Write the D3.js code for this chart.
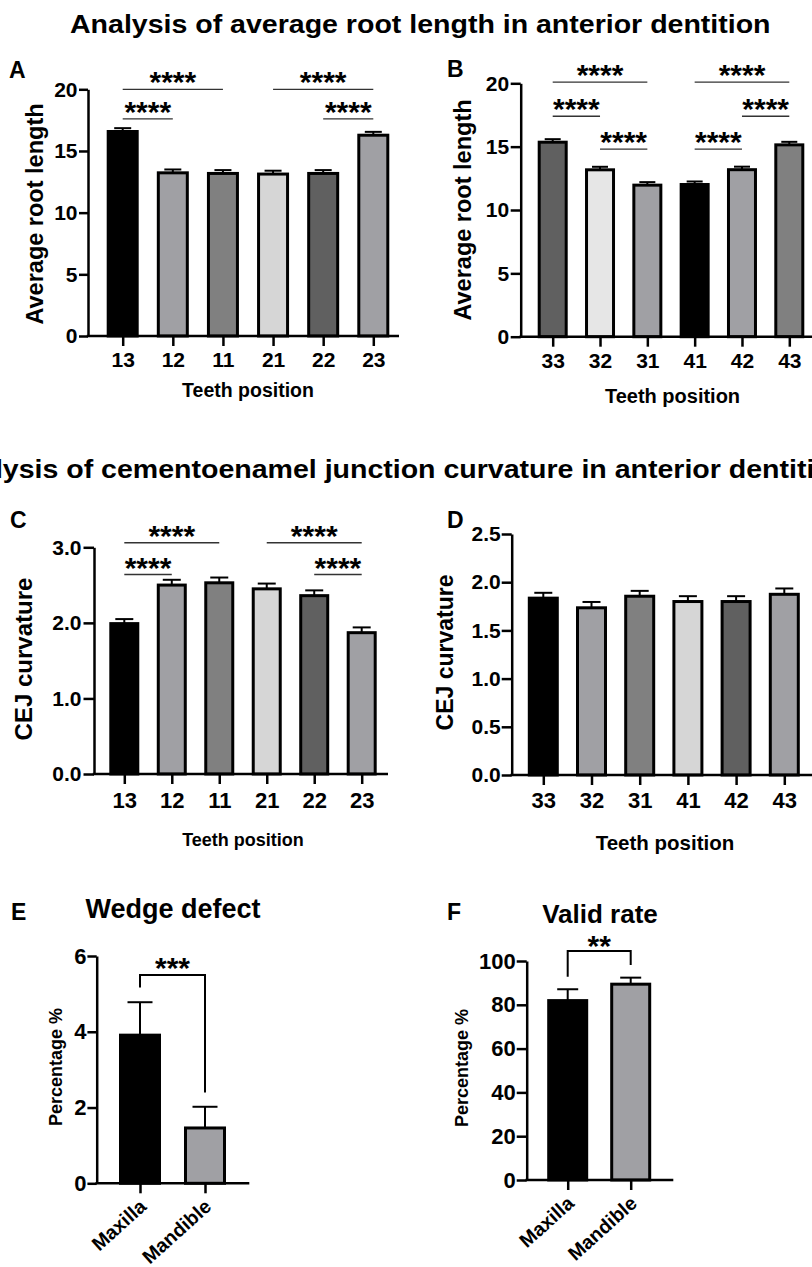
<!DOCTYPE html>
<html>
<head>
<meta charset="utf-8">
<script src="https://cdn.jsdelivr.net/npm/d3@7"></script>
<style>
  body { margin: 0; background: #fff; }
  svg text { font-family: "Liberation Sans", Arial, sans-serif; font-weight: bold; fill: #000; }
</style>
</head>
<body>
<svg id="fig" width="812" height="1267"></svg>
<script>
// ---- data ----
var upperTeeth = ["13", "12", "11", "21", "22", "23"];
var lowerTeeth = ["33", "32", "31", "41", "42", "43"];
var jaws = ["Maxilla", "Mandible"];

var rootUpper = [16.7, 13.35, 13.3, 13.25, 13.3, 16.4];
var rootUpperErr = [0.15, 0.15, 0.15, 0.15, 0.15, 0.15];
var rootLower = [15.47, 13.29, 12.08, 12.13, 13.3, 15.26];
var rootLowerErr = [0.12, 0.12, 0.12, 0.12, 0.12, 0.12];

var cejUpper = [2.01, 2.52, 2.55, 2.47, 2.38, 1.89];
var cejUpperErr = [0.04, 0.05, 0.05, 0.05, 0.05, 0.05];
var cejLower = [1.85, 1.75, 1.87, 1.815, 1.815, 1.89];
var cejLowerErr = [0.04, 0.045, 0.04, 0.04, 0.04, 0.045];

var wedge = [3.95, 1.5];
var wedgeErr = [0.83, 0.52];
var valid = [82.6, 90.1];
var validErr = [4.5, 2.3];

// significance marks: pairs of categories and the height (in data units) of the line
var sigA = [
  { a: "13", b: "11", y: 20, txt: "****" },
  { a: "13", b: "12", y: 17.6, txt: "****" },
  { a: "21", b: "23", y: 20, txt: "****" },
  { a: "22", b: "23", y: 17.6, txt: "****" }
];
var sigB = [
  { a: "33", b: "31", y: 20.1, txt: "****" },
  { a: "33", b: "32", y: 17.4, txt: "****" },
  { a: "32", b: "31", y: 14.8, txt: "****" },
  { a: "41", b: "43", y: 20.1, txt: "****" },
  { a: "42", b: "43", y: 17.4, txt: "****" },
  { a: "41", b: "42", y: 14.8, txt: "****" }
];
var sigC = [
  { a: "13", b: "11", y: 3.06, txt: "****" },
  { a: "13", b: "12", y: 2.64, txt: "****" },
  { a: "21", b: "23", y: 3.06, txt: "****" },
  { a: "22", b: "23", y: 2.64, txt: "****" }
];
var bracketE = { a: "Maxilla", b: "Mandible", yA: 5.17, yTop: 5.5, yB: 2.4, txt: "***" };
var bracketF = { a: "Maxilla", b: "Mandible", yA: 92.8, yTop: 104.6, yB: 98.2, txt: "**" };

var svg = d3.select("#fig");

function drawPanel(p) {
  var g = svg.append("g");
  var x = d3.scalePoint().domain(p.cats).range(p.xRange);
  var y = d3.scaleLinear().domain([0, p.yMax]).range([p.y0, p.yTopPx]);

  // bars (border drawn inside the bar)
  g.selectAll("rect.bar")
    .data(p.vals)
    .enter()
    .append("rect")
    .attr("class", "bar")
    .attr("x", (d, i) => x(p.cats[i]) - p.barW / 2 + 1.5)
    .attr("y", d => y(d) + 1.5)
    .attr("width", p.barW - 3)
    .attr("height", d => p.y0 - y(d) - 1.5)
    .attr("fill", (d, i) => p.colors[i])
    .attr("stroke", "#000")
    .attr("stroke-width", 3);

  // error bars, upper half only
  var capW = p.capW;
  p.vals.forEach(function(v, i) {
    var cx = x(p.cats[i]);
    var top = y(v + p.errs[i]);
    g.append("line").attr("x1", cx).attr("x2", cx).attr("y1", y(v) + 1).attr("y2", top)
      .attr("stroke", "#000").attr("stroke-width", 2);
    g.append("line").attr("x1", cx - capW / 2).attr("x2", cx + capW / 2).attr("y1", top).attr("y2", top)
      .attr("stroke", "#000").attr("stroke-width", 2);
  });

  // y axis
  var leftAxis = d3.axisLeft(y)
    .tickValues(p.yTicks)
    .tickSize(p.yTickLen)
    .tickSizeOuter(0)
    .tickPadding(p.yPad)
    .tickFormat(p.fmt);
  var ya = g.append("g").attr("transform", `translate(${p.axisX},0)`).call(leftAxis);
  ya.selectAll("line, path").attr("stroke", "#000").attr("stroke-width", 2.5);
  ya.selectAll("text").style("font-size", p.yTickFont + "px");

  // x axis
  var bottomAxis = d3.axisBottom(x).tickSize(10).tickSizeOuter(0).tickPadding(p.xPad);
  var xa = g.append("g").attr("transform", `translate(0,${p.y0})`).call(bottomAxis);
  xa.select(".domain").remove();
  xa.selectAll("line").attr("stroke", "#000").attr("stroke-width", 2.5);
  xa.selectAll("text").style("font-size", p.xTickFont + "px");
  if (p.rotate) {
    xa.selectAll("text")
      .attr("y", 0).attr("dy", 0)
      .attr("text-anchor", "end")
      .attr("transform", "translate(7,25) rotate(-42)");
  }
  g.append("line")
    .attr("x1", p.axisX - 1.25).attr("x2", p.xEnd)
    .attr("y1", p.y0).attr("y2", p.y0)
    .attr("stroke", "#000").attr("stroke-width", 2.5);

  // significance lines
  (p.sig || []).forEach(function(s) {
    var ly = y(s.y);
    g.append("line").attr("x1", x(s.a)).attr("x2", x(s.b)).attr("y1", ly).attr("y2", ly)
      .attr("stroke", "#333").attr("stroke-width", 1.3);
    g.append("text")
      .attr("x", (x(s.a) + x(s.b)) / 2).attr("y", ly + 3)
      .attr("text-anchor", "middle")
      .style("font-size", "30px")
      .text(s.txt);
  });

  // bracket
  if (p.bracket) {
    var b = p.bracket;
    g.append("path")
      .attr("d", `M${x(b.a)},${y(b.yA)}V${y(b.yTop)}H${x(b.b)}V${y(b.yB)}`)
      .attr("fill", "none").attr("stroke", "#000").attr("stroke-width", 2);
    g.append("text")
      .attr("x", (x(b.a) + x(b.b)) / 2).attr("y", y(b.yTop) + p.starDy)
      .attr("text-anchor", "middle")
      .style("font-size", "30px")
      .text(b.txt);
  }

  // axis titles
  g.append("text")
    .attr("transform", `translate(${p.yTitleX},${p.yTitleY}) rotate(-90)`)
    .attr("text-anchor", "middle")
    .style("font-size", p.yTitleFont + "px")
    .text(p.yTitle);
  if (p.xTitle) {
    g.append("text")
      .attr("x", p.xTitleX).attr("y", p.xTitleY)
      .attr("text-anchor", "middle")
      .style("font-size", p.xTitleFont + "px")
      .text(p.xTitle);
  }
  // panel letter
  g.append("text").attr("x", p.letterX).attr("y", p.letterY)
    .style("font-size", "23px").text(p.letter);
  if (p.title) {
    g.append("text").attr("x", p.titleX).attr("y", p.titleY)
      .attr("text-anchor", "middle")
      .style("font-size", p.titleFont + "px")
      .text(p.title);
  }
}

// figure titles (slightly wide lettering in the original)
var title1 = svg.append("text").style("font-size", "25.5px")
  .text("Analysis of average root length in anterior dentition");
var sx = 701 / title1.node().getComputedTextLength();
title1.attr("transform", `translate(70,32.5) scale(${sx},1)`);
svg.append("text").style("font-size", "25.5px")
  .attr("transform", `translate(-59,478) scale(${sx},1)`)
  .text("Analysis of cementoenamel junction curvature in anterior dentition");

var grayA = ["#000000", "#a0a0a4", "#808080", "#d6d6d6", "#606060", "#a0a0a4"];
var grayB = ["#606060", "#e6e6e6", "#a0a0a4", "#000000", "#a0a0a4", "#808080"];

drawPanel({
  cats: upperTeeth, vals: rootUpper, errs: rootUpperErr, colors: grayA,
  xRange: [122.7, 373.3], axisX: 88, xEnd: 399, y0: 336, yTopPx: 89.3, yMax: 20,
  yTicks: [0, 5, 10, 15, 20], fmt: d3.format("d"), yTickLen: 9, yPad: 1.5, yTickFont: 21,
  xPad: 6, xTickFont: 21, barW: 32, capW: 17, sig: sigA,
  yTitle: "Average root length", yTitleX: 42.5, yTitleY: 214, yTitleFont: 23.5,
  xTitle: "Teeth position", xTitleX: 248, xTitleY: 397, xTitleFont: 19.5,
  letter: "A", letterX: 9, letterY: 78
});

drawPanel({
  cats: lowerTeeth, vals: rootLower, errs: rootLowerErr, colors: grayB,
  xRange: [552.7, 789.3], axisX: 520.7, xEnd: 812, y0: 336.7, yTopPx: 83.3, yMax: 20,
  yTicks: [0, 5, 10, 15, 20], fmt: d3.format("d"), yTickLen: 10, yPad: 1.5, yTickFont: 21,
  xPad: 6.5, xTickFont: 21, barW: 30, capW: 16, sig: sigB,
  yTitle: "Average root length", yTitleX: 470.7, yTitleY: 210, yTitleFont: 23.5,
  xTitle: "Teeth position", xTitleX: 672.5, xTitleY: 403, xTitleFont: 20,
  letter: "B", letterX: 447, letterY: 77
});

drawPanel({
  cats: upperTeeth, vals: cejUpper, errs: cejUpperErr, colors: grayA,
  xRange: [124.3, 361.7], axisX: 94, xEnd: 388, y0: 774, yTopPx: 547.3, yMax: 3,
  yTicks: [0, 1, 2, 3], fmt: d3.format(".1f"), yTickLen: 10.5, yPad: 2, yTickFont: 21,
  xPad: 8.5, xTickFont: 22, barW: 30, capW: 18, sig: sigC,
  yTitle: "CEJ curvature", yTitleX: 31.7, yTitleY: 659, yTitleFont: 24,
  xTitle: "Teeth position", xTitleX: 243, xTitleY: 846, xTitleFont: 18,
  letter: "C", letterX: 10, letterY: 528
});

drawPanel({
  cats: lowerTeeth, vals: cejLower, errs: cejLowerErr, colors: grayA,
  xRange: [543.3, 784.3], axisX: 511.7, xEnd: 812, y0: 775, yTopPx: 534, yMax: 2.5,
  yTicks: [0, 0.5, 1, 1.5, 2, 2.5], fmt: d3.format(".1f"), yTickLen: 10, yPad: 1, yTickFont: 21,
  xPad: 7.5, xTickFont: 22, barW: 31, capW: 18,
  yTitle: "CEJ curvature", yTitleX: 453.3, yTitleY: 652.5, yTitleFont: 23,
  xTitle: "Teeth position", xTitleX: 665, xTitleY: 850, xTitleFont: 20.5,
  letter: "D", letterX: 447, letterY: 528
});

drawPanel({
  cats: jaws, vals: wedge, errs: wedgeErr, colors: ["#000000", "#a0a0a4"],
  xRange: [140, 205], axisX: 96.7, xEnd: 249.3, y0: 1183.3, yTopPx: 956, yMax: 6,
  yTicks: [0, 2, 4, 6], fmt: d3.format("d"), yTickLen: 9.3, yPad: 1, yTickFont: 22,
  xPad: 6, xTickFont: 19.5, barW: 42, capW: 25, rotate: true, bracket: bracketE, starDy: 3,
  yTitle: "Percentage %", yTitleX: 61.7, yTitleY: 1067, yTitleFont: 18,
  letter: "E", letterX: 11, letterY: 920,
  title: "Wedge defect", titleX: 173, titleY: 918.3, titleFont: 27
});

drawPanel({
  cats: jaws, vals: valid, errs: validErr, colors: ["#000000", "#a0a0a4"],
  xRange: [567.7, 630.7], axisX: 526.7, xEnd: 673.3, y0: 1180, yTopPx: 961, yMax: 100,
  yTicks: [0, 20, 40, 60, 80, 100], fmt: d3.format("d"), yTickLen: 10, yPad: 1, yTickFont: 22,
  xPad: 6, xTickFont: 19.5, barW: 41, capW: 21, rotate: true, bracket: bracketF, starDy: 5,
  yTitle: "Percentage %", yTitleX: 468.3, yTitleY: 1068, yTitleFont: 18,
  letter: "F", letterX: 447, letterY: 920,
  title: "Valid rate", titleX: 600, titleY: 922.5, titleFont: 26
});
</script>
</body>
</html>
